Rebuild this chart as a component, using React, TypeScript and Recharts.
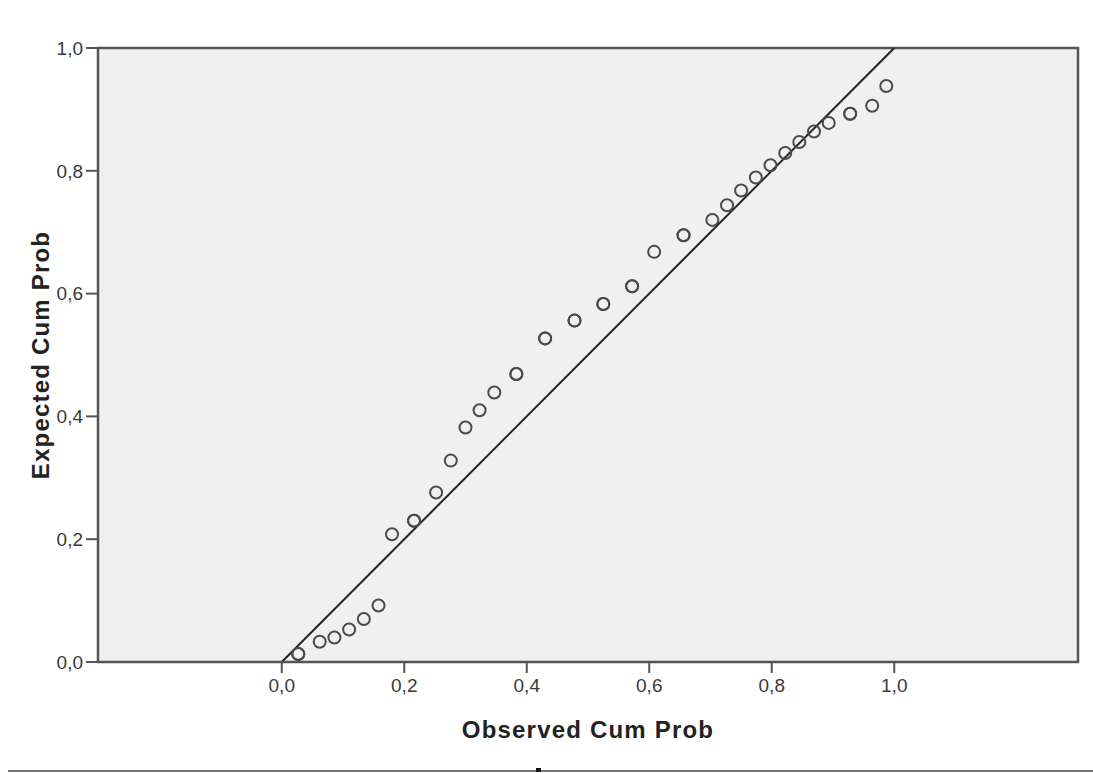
import {
  ScatterChart,
  Scatter,
  XAxis,
  YAxis,
  ReferenceArea,
  ReferenceLine,
} from 'recharts'

// observed vs expected cumulative probability (ties drawn twice, as in the source)
const observed = [
  0.027, 0.027, 0.062, 0.086, 0.11, 0.134, 0.158, 0.18, 0.216, 0.216, 0.252, 0.276, 0.3, 0.323,
  0.347, 0.383, 0.383, 0.43, 0.43, 0.478, 0.478, 0.525, 0.525, 0.572, 0.572, 0.608, 0.656,
  0.656, 0.703, 0.727, 0.75, 0.774, 0.798, 0.822, 0.845, 0.869, 0.893, 0.928, 0.928, 0.964,
  0.987,
]
const expected = [
  0.013, 0.013, 0.033, 0.04, 0.053, 0.07, 0.092, 0.208, 0.23, 0.23, 0.276, 0.328, 0.382, 0.41,
  0.439, 0.469, 0.469, 0.527, 0.527, 0.556, 0.556, 0.583, 0.583, 0.612, 0.612, 0.668, 0.695,
  0.695, 0.72, 0.744, 0.768, 0.789, 0.809, 0.829, 0.847, 0.864, 0.878, 0.893, 0.893, 0.906,
  0.938,
]
const xTicks = [0, 0.2, 0.4, 0.6, 0.8, 1.0]
const yTicks = [0, 0.2, 0.4, 0.6, 0.8, 1.0]

const data = observed.map((x, i) => ({ x, y: expected[i] }))

const fmt = (v: number) => v.toFixed(1).replace('.', ',')
const FONT = '"Liberation Sans", Arial, sans-serif'
const AXIS = '#555'

export default function App() {
  return (
    <div style={{ position: 'absolute', left: 0, top: 0, background: '#fff', fontFamily: FONT }}>
      <ScatterChart width={1093} height={774} margin={{ top: 48, right: 15, left: 0, bottom: 0 }}>
        <ReferenceArea
          x1={-0.3}
          x2={1.3}
          y1={0}
          y2={1}
          fill="#f0f0f0"
          fillOpacity={1}
          stroke={AXIS}
          strokeWidth={2.5}
        />
        <XAxis
          type="number"
          dataKey="x"
          domain={[-0.3, 1.3]}
          allowDataOverflow
          ticks={xTicks}
          tickFormatter={fmt}
          height={112}
          tickSize={11}
          tickMargin={6}
          stroke={AXIS}
          strokeWidth={2}
          tick={{ fontSize: 19, fill: '#3a3a3a' }}
          label={{
            value: 'Observed Cum Prob',
            position: 'insideBottom',
            offset: 36,
            style: { fontSize: 24, fontWeight: 'bold', fill: '#222', letterSpacing: 1.2 },
          }}
        />
        <YAxis
          type="number"
          dataKey="y"
          domain={[0, 1]}
          ticks={yTicks}
          tickFormatter={fmt}
          width={98}
          tickSize={12}
          tickMargin={3}
          stroke={AXIS}
          strokeWidth={2}
          tick={{ fontSize: 19, fill: '#3a3a3a' }}
          label={{
            value: 'Expected Cum Prob',
            angle: -90,
            position: 'insideLeft',
            offset: 40,
            style: { textAnchor: 'middle', fontSize: 24, fontWeight: 'bold', fill: '#222', letterSpacing: 1.2 },
          }}
        />
        <ReferenceLine
          segment={[
            { x: 0, y: 0 },
            { x: 1, y: 1 },
          ]}
          stroke="#222"
          strokeWidth={2}
        />
        <Scatter
          data={data}
          isAnimationActive={false}
          shape={(p: { cx?: number; cy?: number }) => (
            <circle cx={p.cx} cy={p.cy} r={6} fill="none" stroke="#4a4a4a" strokeWidth={2} />
          )}
        />
      </ScatterChart>
      <div style={{ position: 'absolute', left: 8, top: 770, width: 1085, height: 2, background: '#777' }} />
      <div style={{ position: 'absolute', left: 536, top: 768, width: 5, height: 4, background: '#111' }} />
    </div>
  )
}
